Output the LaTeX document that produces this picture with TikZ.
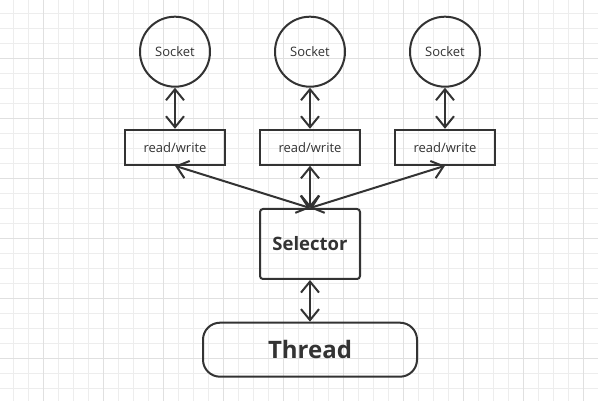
\documentclass[tikz,border=0pt]{standalone}
\usepackage{fontspec}
\setmainfont{Open Sans}
\usetikzlibrary{arrows.meta}
\definecolor{ink}{HTML}{333333}
\definecolor{gridminor}{HTML}{EDEDED}
\definecolor{gridmajor}{HTML}{E0E0E0}
\begin{document}
\begin{tikzpicture}[x=1pt,y=-1pt,
  sock/.style={circle,draw=ink,line width=2pt,minimum size=70pt,inner sep=0pt,font=\fontsize{13}{15}\selectfont,text=ink},
  rw/.style={rectangle,draw=ink,line width=2pt,minimum width=100pt,minimum height=35pt,inner sep=0pt,font=\fontsize{13}{15}\selectfont,text=ink},
  selbox/.style={rectangle,draw=ink,line width=2pt,rounded corners=3pt,minimum width=100pt,minimum height=70pt,inner sep=0pt,font=\fontsize{18.5}{21}\selectfont\bfseries,text=ink},
  thrbox/.style={rectangle,draw=ink,line width=2pt,rounded corners=17pt,minimum width=214pt,minimum height=54pt,inner sep=0pt,font=\fontsize{24}{28}\selectfont\bfseries,text=ink},
  link/.style={draw=ink,line width=2pt,{Straight Barb[length=11pt,width=18pt]}-{Straight Barb[length=11pt,width=18pt]}}
]
\useasboundingbox (0,0) rectangle (598,401);
\fill[white] (0,0) rectangle (598,401);
% grid
\foreach \i in {0,...,39} {
  \draw[gridminor,line width=1pt] ({13.5+15*\i},0) -- ({13.5+15*\i},401);
}
\foreach \i in {0,...,26} {
  \draw[gridminor,line width=1pt] (0,{13.5+15*\i}) -- (598,{13.5+15*\i});
}
\foreach \i in {0,...,9} {
  \draw[gridmajor,line width=1pt] ({43.5+60*\i},0) -- ({43.5+60*\i},401);
}
\foreach \i in {0,...,5} {
  \draw[gridmajor,line width=1pt] (0,{58.5+60*\i}) -- (598,{58.5+60*\i});
}
% nodes
\node[sock] (s1) at (175,51.7) {Socket};
\node[sock] (s2) at (310,51.7) {Socket};
\node[sock] (s3) at (445,51.7) {Socket};
\node[rw] (r1) at (175,147.3) {read/write};
\node[rw] (r2) at (310,147.3) {read/write};
\node[rw] (r3) at (445,147.3) {read/write};
\node[selbox] (sel) at (310,244) {Selector};
\node[thrbox] (thr) at (310,349.7) {Thread};
% connectors
\draw[link] (s1) -- (r1);
\draw[link] (s2) -- (r2);
\draw[link] (s3) -- (r3);
\draw[link] (r1.south) -- (sel.north);
\draw[link] (r2.south) -- (sel.north);
\draw[link] (r3.south) -- (sel.north);
\draw[link] (sel) -- (thr);
\end{tikzpicture}
\end{document}
